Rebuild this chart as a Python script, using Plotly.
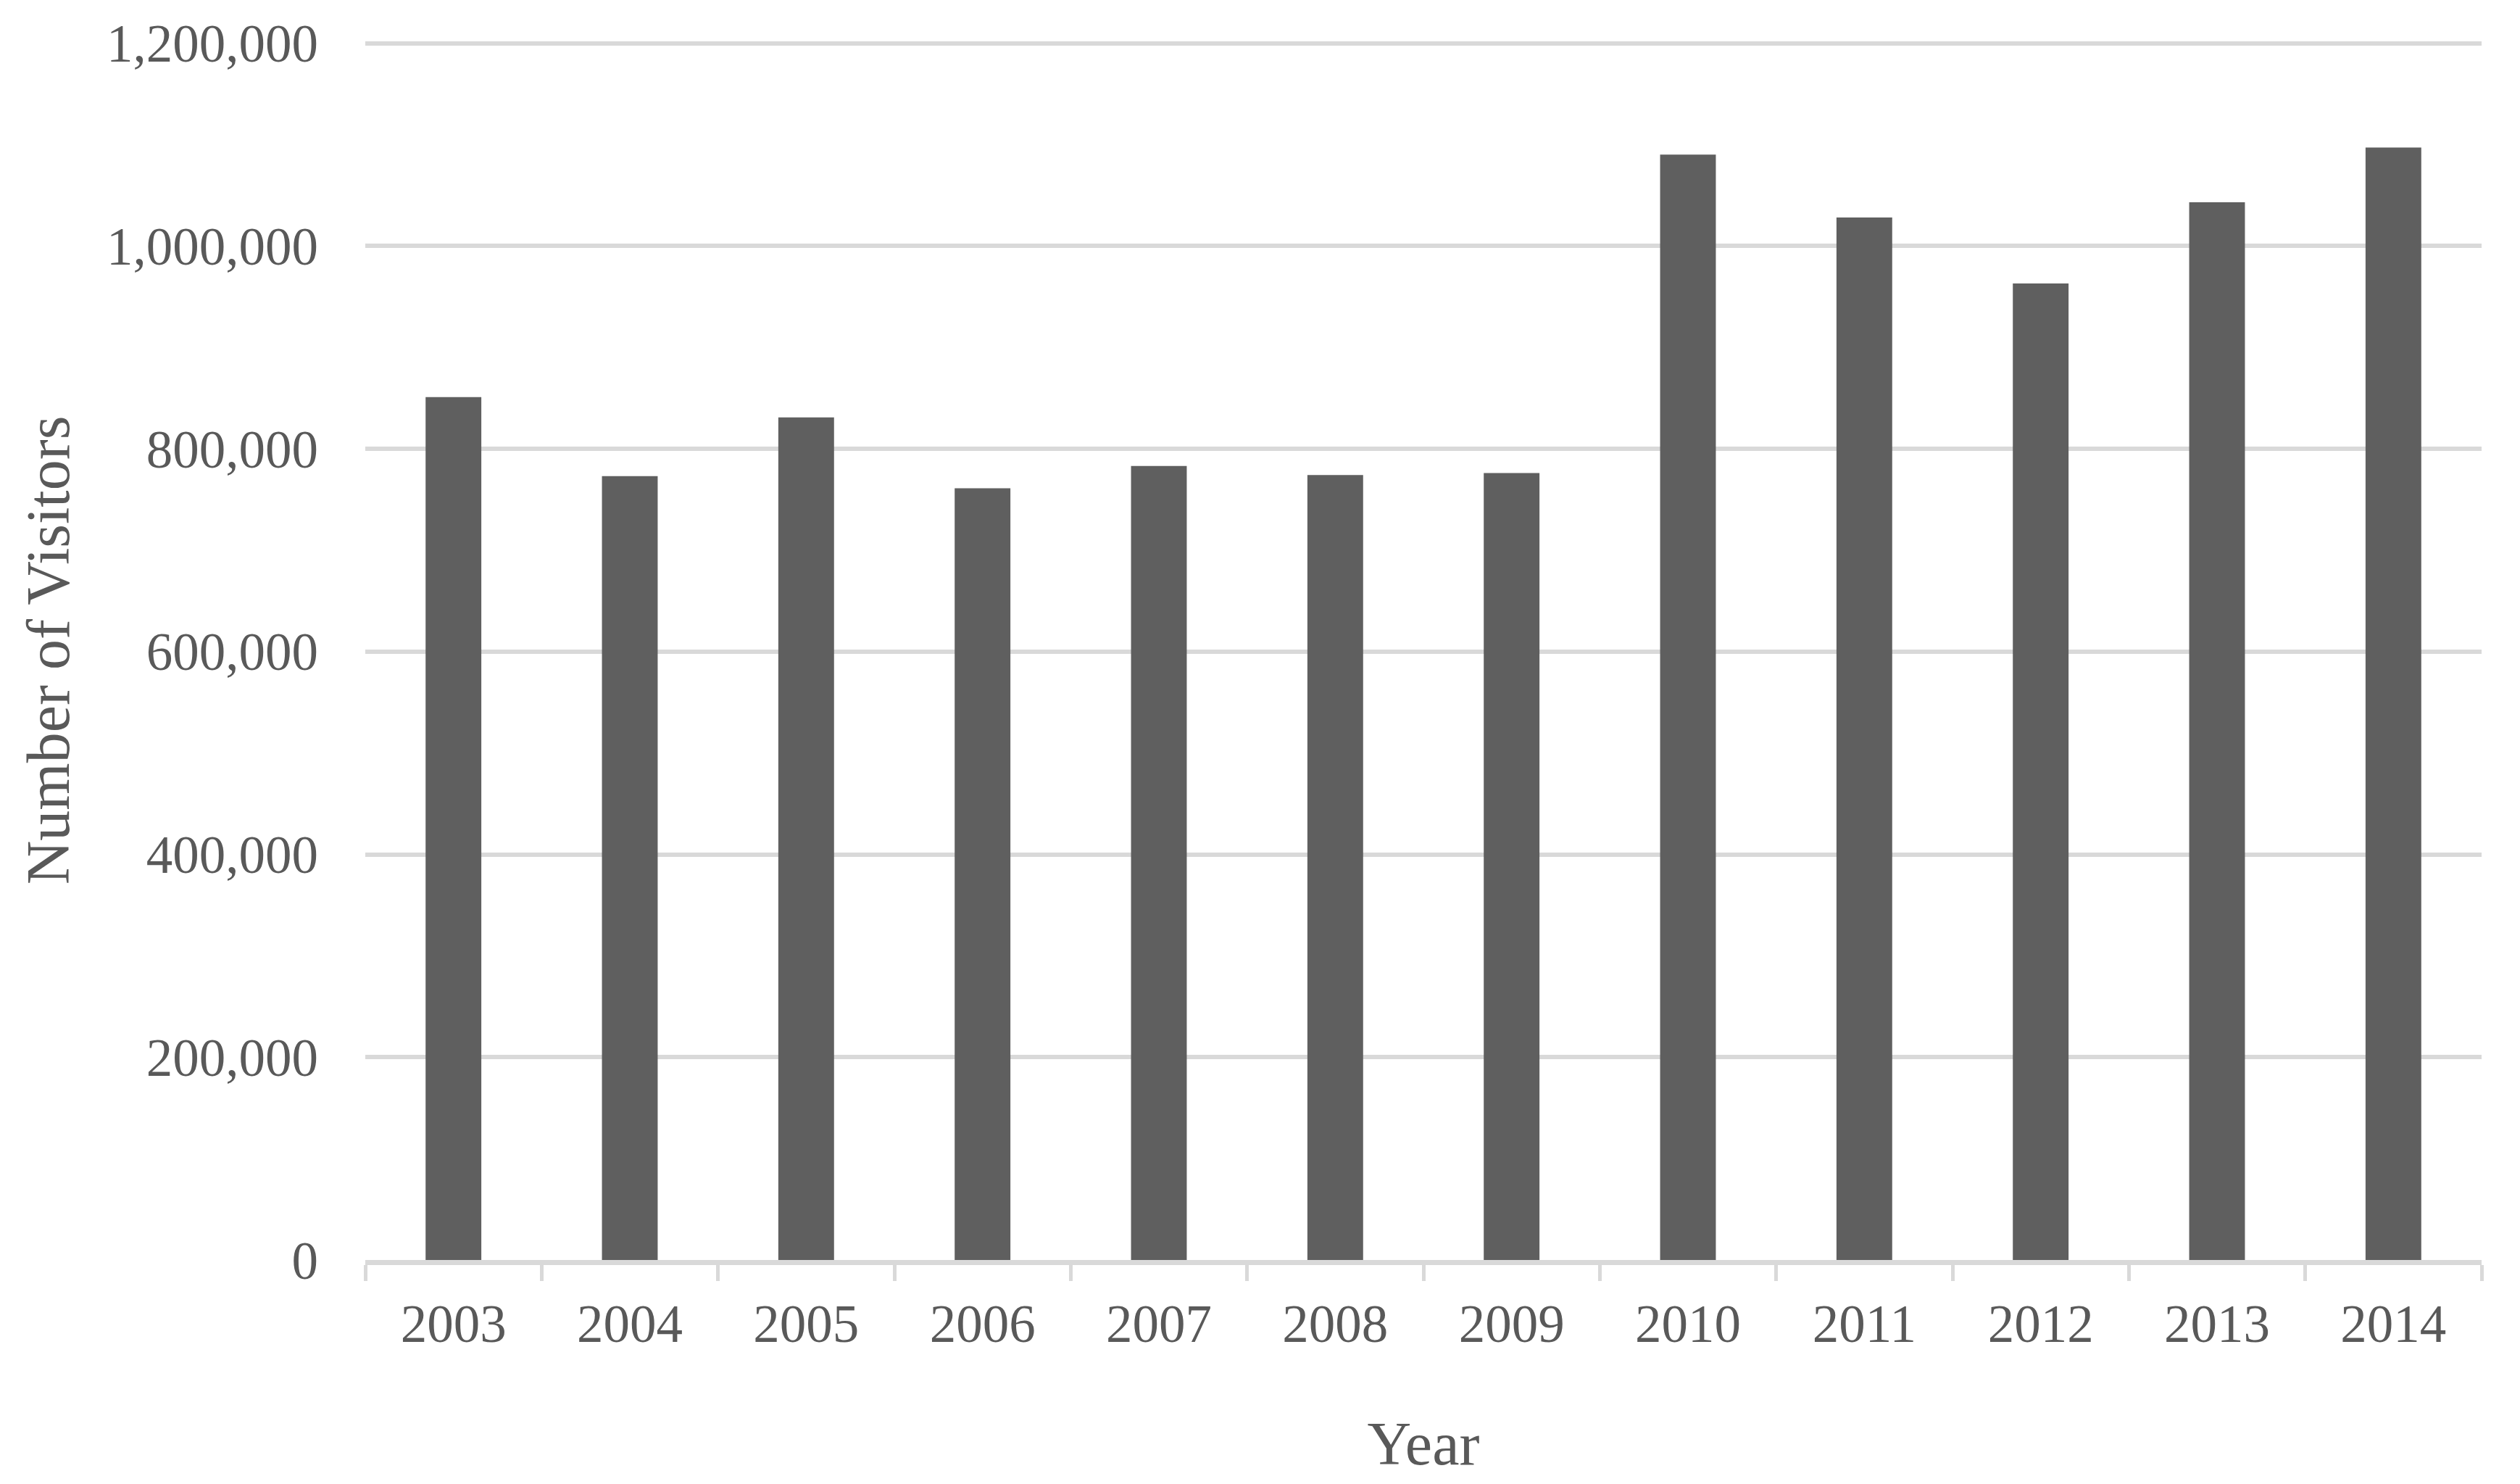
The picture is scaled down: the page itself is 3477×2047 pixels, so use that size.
import plotly.graph_objects as go

years = ["2003", "2004", "2005", "2006", "2007", "2008", "2009",
         "2010", "2011", "2012", "2013", "2014"]
visitors = [851000, 773000, 831000, 761000, 783000, 774000, 776000,
            1090000, 1028000, 963000, 1043000, 1097000]
y_ticks = [0, 200000, 400000, 600000, 800000, 1000000, 1200000]

TEXT = "#595959"
GRID = "#d9d9d9"
BAR = "#5f5f5f"
FONT = "Liberation Serif"

fig = go.Figure(go.Bar(x=years, y=visitors, marker=dict(color=BAR, line=dict(width=0))))

fig.update_layout(
    width=3469, height=2039,
    margin=dict(l=496, r=53, t=41, b=309),
    paper_bgcolor="white", plot_bgcolor="white",
    bargap=0.684,
    showlegend=False,
    font=dict(family=FONT, color=TEXT, size=73),
)
fig.update_xaxes(
    type="category",
    showline=True, linecolor=GRID, linewidth=7,
    ticks="outside", tickson="boundaries", ticklen=22, tickwidth=5, tickcolor=GRID,
    showgrid=False,
    ticklabelstandoff=18,
    tickfont=dict(family=FONT, color=TEXT, size=73),
    title=dict(text="Year", font=dict(family=FONT, color=TEXT, size=84), standoff=98),
)
fig.update_yaxes(
    range=[0, 1202500],
    tickvals=y_ticks,
    tickformat=",d",
    showgrid=True, gridcolor=GRID, gridwidth=6,
    zeroline=False, showline=False,
    ticks="", ticklabelstandoff=64,
    tickfont=dict(family=FONT, color=TEXT, size=73),
    title=dict(text="Number of Visitors", font=dict(family=FONT, color=TEXT, size=84), standoff=23),
)

fig.write_html("out.html")
